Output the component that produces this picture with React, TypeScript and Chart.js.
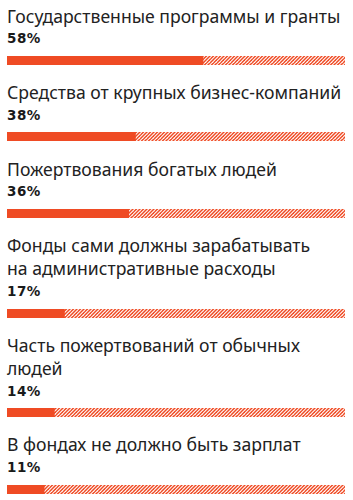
import React, { useEffect, useRef } from "react";
import { Chart, registerables } from "chart.js";

Chart.register(...registerables);

const labelLines: string[][] = [
  ["Государственные программы и гранты"],
  ["Средства от крупных бизнес-компаний"],
  ["Пожертвования богатых людей"],
  ["Фонды сами должны зарабатывать", "на административные расходы"],
  ["Часть пожертвований от обычных", "людей"],
  ["В фондах не должно быть зарплат"],
];
const values: number[] = [58, 38, 36, 17, 14, 11];
const scaleMax = 100;

const ORANGE = "#EF4B24";

function makePattern(): CanvasPattern | string {
  const c = document.createElement("canvas");
  c.width = 7;
  c.height = 7;
  const ctx = c.getContext("2d");
  if (!ctx) return ORANGE;
  ctx.fillStyle = "#ffffff";
  ctx.fillRect(0, 0, 7, 7);
  ctx.strokeStyle = ORANGE;
  ctx.lineWidth = 1.5;
  for (let k = -2; k <= 6; k++) {
    const cc = k * 3.5;
    ctx.beginPath();
    ctx.moveTo(cc + 7, -7);
    ctx.lineTo(cc - 7, 7);
    ctx.stroke();
  }
  const p = ctx.createPattern(c, "repeat");
  return p || ORANGE;
}

function BarRow({ value }: { value: number }) {
  const ref = useRef<HTMLCanvasElement | null>(null);
  useEffect(() => {
    if (!ref.current) return;
    const chart = new Chart(ref.current, {
      type: "bar",
      data: {
        labels: [""],
        datasets: [
          {
            data: [value],
            backgroundColor: ORANGE,
            borderWidth: 0,
            barPercentage: 1,
            categoryPercentage: 1,
            grouped: false,
            order: 0,
          },
          {
            data: [scaleMax],
            backgroundColor: makePattern() as any,
            borderWidth: 0,
            barPercentage: 1,
            categoryPercentage: 1,
            grouped: false,
            order: 1,
          },
        ],
      },
      options: {
        indexAxis: "y",
        animation: false,
        responsive: true,
        maintainAspectRatio: false,
        layout: { padding: 0 },
        scales: {
          x: { display: false, min: 0, max: scaleMax },
          y: { display: false },
        },
        plugins: { legend: { display: false }, tooltip: { enabled: false } },
      },
    });
    return () => chart.destroy();
  }, [value]);
  return (
    <div style={{ position: "relative", width: 338, height: 9 }}>
      <canvas ref={ref} />
    </div>
  );
}

export default function App() {
  return (
    <div
      style={{
        position: "absolute",
        left: 0,
        top: 0,
        width: 353,
        background: "#fff",
        paddingLeft: 7,
        paddingTop: 4.6,
        boxSizing: "border-box",
      }}
    >
      {labelLines.map((lines, i) => (
        <div key={i} style={{ marginBottom: 16.4 }}>
          <div
            style={{
              fontFamily: "'Noto Sans', sans-serif",
              fontSize: 17.6,
              lineHeight: "23px",
              color: "#222",
              whiteSpace: "nowrap",
            }}
          >
            {lines.map((l, j) => (
              <div key={j}>{l}</div>
            ))}
          </div>
          <div
            style={{
              fontFamily: "'DejaVu Sans', sans-serif",
              fontWeight: 700,
              fontSize: 13.5,
              letterSpacing: 0.5,
              lineHeight: "14px",
              color: "#1a1a1a",
              marginTop: 3.7,
              marginBottom: 10.5,
            }}
          >
            {values[i]}%
          </div>
          <BarRow value={values[i]} />
        </div>
      ))}
    </div>
  );
}
